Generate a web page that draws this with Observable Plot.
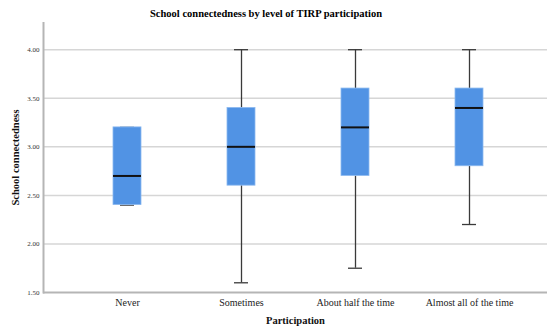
<!DOCTYPE html>
<html><head><meta charset="utf-8">
<script src="https://cdn.jsdelivr.net/npm/d3@7"></script>
<script src="https://cdn.jsdelivr.net/npm/@observablehq/plot@0.6"></script>
<style>
body{margin:0;background:#fff;}
#wrap{width:547px;height:328px;position:relative;font-family:"Liberation Serif",serif;}
#title{height:22px;box-sizing:border-box;padding-top:8px;font-size:10.5px;font-weight:bold;line-height:11px;text-align:center;padding-right:15px;}
</style></head>
<body><div id="wrap"><div id="title">School connectedness by level of TIRP participation</div><div id="chart"></div></div>
<script>
const categories = ["Never","Sometimes","About half the time","Almost all of the time"];
const minVals = [2.4, 1.6, 1.75, 2.2];
const q1Vals = [2.4, 2.6, 2.7, 2.8];
const medianVals = [2.7, 3.0, 3.2, 3.4];
const q3Vals = [3.2, 3.4, 3.6, 3.6];
const maxVals = [3.2, 4.0, 4.0, 4.0];
const yTicks = [1.5, 2.0, 2.5, 3.0, 3.5, 4.0];
const yDomain = [1.5, 4.28];

const rows = categories.map((c,i)=>({cat:c,min:minVals[i],q1:q1Vals[i],med:medianVals[i],q3:q3Vals[i],max:maxVals[i]}));

const chart = Plot.plot({
  width:547, height:306,
  marginLeft:43, marginRight:0, marginTop:0, marginBottom:36,
  style:{fontFamily:"Liberation Serif, serif", background:"#fff"},
  x:{domain:categories, range:[43,552], paddingInner:0.7585, paddingOuter:0.5985, label:null},
  y:{domain:yDomain, label:null},
  marks:[
    Plot.ruleY(yTicks.slice(1), {stroke:"#d6d6d6", strokeWidth:1.5}),
    Plot.ruleY([yDomain[0]], {stroke:"#b5b5b5", strokeWidth:2}),
    Plot.frame({anchor:"left", stroke:"#b5b5b5", strokeWidth:2}),
    Plot.ruleX(rows, {x:"cat", y1:"min", y2:"q1", stroke:"#3a3a3a", strokeWidth:1.3}),
    Plot.ruleX(rows, {x:"cat", y1:"q3", y2:"max", stroke:"#3a3a3a", strokeWidth:1.3}),
    Plot.tickY(rows, {x:"cat", y:"min", stroke:"#3a3a3a", strokeWidth:1.3, insetLeft:7, insetRight:7}),
    Plot.tickY(rows, {x:"cat", y:"max", stroke:"#3a3a3a", strokeWidth:1.3, insetLeft:7, insetRight:7}),
    Plot.barY(rows, {x:"cat", y1:"q1", y2:"q3", fill:"#5193e4", stroke:"#8cb9ef", strokeWidth:0.8}),
    Plot.tickY(rows, {x:"cat", y:"med", stroke:"#111", strokeWidth:2}),
    Plot.axisY({ticks:yTicks, tickFormat:d3.format(".2f"), tickSize:0, tickPadding:4, fontSize:7, color:"#333",
      label:"School connectedness", labelAnchor:"center", labelOffset:32, labelArrow:"none"}),
    Plot.axisX({tickSize:0, tickPadding:6, fontSize:10, color:"#222", label:"Participation", labelAnchor:"center", labelOffset:31, labelArrow:"none"})
  ]
});
document.getElementById("chart").append(chart);
chart.querySelectorAll("g[aria-label='y-axis label'] text, g[aria-label='x-axis label'] text").forEach(t=>{
  t.style.fontWeight="bold";t.style.fontSize="10.5px";t.style.fill="#111";
  t.textContent = t.textContent.replace(/[↑↓→←]\s*|\s*[↑↓→←]/g,"");
});
</script></body></html>
